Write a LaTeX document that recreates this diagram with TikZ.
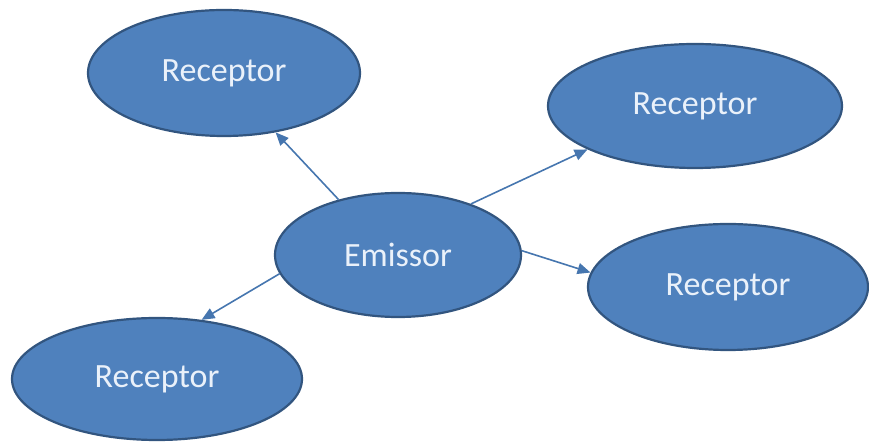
\documentclass[tikz,border=0pt]{standalone}
\usepackage{fontspec}
\setmainfont{Carlito}
\usetikzlibrary{shapes.geometric,arrows.meta}

\definecolor{blobfill}{HTML}{4F81BD}
\definecolor{blobline}{HTML}{32557F}
\definecolor{arrowblue}{HTML}{4676AF}
\definecolor{blobtext}{HTML}{EAF1FA}

\tikzset{
    blob/.style={ellipse, fill=blobfill, draw=blobline, line width=2.2pt,
        inner sep=0pt, text=blobtext, font=\fontsize{34}{40}\selectfont},
    link/.style={->, arrowblue, line width=1.6pt}
}

\begin{document}
\begin{tikzpicture}[x=1pt, y=1pt, >={Triangle[length=13pt,width=11pt]}]
    \useasboundingbox (0,0) rectangle (869,443);
    \node[blob, minimum width=272pt, minimum height=126pt] (rtl) at (224,370) {Receptor};
    \node[blob, minimum width=294pt, minimum height=124pt] (rtr) at (695,337) {Receptor};
    \node[blob, minimum width=246pt, minimum height=124pt] (em) at (398,188) {Emissor};
    \node[blob, minimum width=280pt, minimum height=126pt] (rbr) at (728,156) {Receptor};
    \node[blob, minimum width=290pt, minimum height=122pt] (rbl) at (157,64) {Receptor};
    \draw[link] (em.137) -- (rtl.311);
    \draw[link] (em.35) -- (rtr.202);
    \draw[link] (em.2) -- (rbr.174);
    \draw[link] (em.189) -- (rbl.53);
\end{tikzpicture}
\end{document}
